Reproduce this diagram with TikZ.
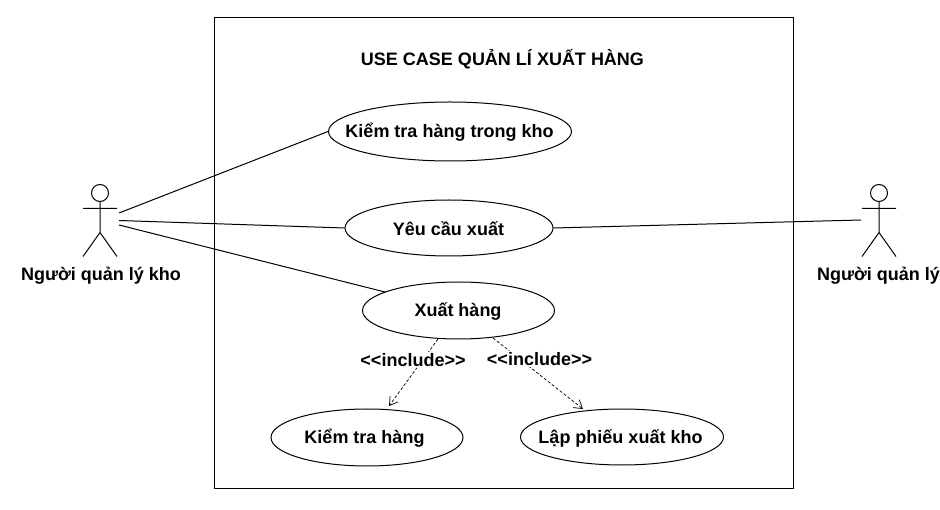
\documentclass[tikz,border=0pt]{standalone}
\usepackage{fontspec}
\setmainfont{Liberation Sans}
\usetikzlibrary{shapes.geometric,arrows.meta}
\begin{document}
\begin{tikzpicture}[x=1pt,y=-1pt,
  uc/.style={draw,ellipse,line width=1pt,inner sep=0pt,fill=white},
  lab/.style={font=\bfseries\fontsize{18}{20}\selectfont,inner sep=0pt},
  con/.style={line width=1pt},
  dep/.style={line width=0.7pt,dash pattern=on 3pt off 2pt,-{Straight Barb[length=8pt,width=10pt]}}]
\useasboundingbox (0,0) rectangle (940,510);
\node[draw,line width=1pt,minimum width=579pt,minimum height=470.5pt,inner sep=0pt,anchor=north west] (sys) at (214,17.5) {};
\node[lab] (title) at (502.5,59.5) {USE CASE QUẢN LÍ XUẤT HÀNG};
\node[uc,minimum width=243pt,minimum height=59pt] (u1) at (450,131.5) {};
\node[lab] (t1) at (449.5,132.5) {Kiểm tra hàng trong kho};
\node[uc,minimum width=208pt,minimum height=56pt] (u2) at (449,228) {};
\node[lab] (t2) at (448.5,229) {Yêu cầu xuất};
\node[uc,minimum width=192pt,minimum height=57pt] (u3) at (458.5,310.5) {};
\node[lab] (t3) at (458,311.5) {Xuất hàng};
\node[uc,minimum width=192pt,minimum height=57pt] (u4) at (367,437.5) {};
\node[lab] (t4) at (364.5,438.5) {Kiểm tra hàng};
\node[uc,minimum width=203pt,minimum height=56pt] (u5) at (622,437) {};
\node[lab] (t5) at (620.5,438.5) {Lập phiếu xuất kho};
% left actor
\draw[con] (100,193) circle (8.5);
\draw[con] (100,201.5) -- (100,232.5) (83,208.5) -- (117,208.5) (100,232.5) -- (83,256.5) (100,232.5) -- (117,256.5);
\node[lab] (nL) at (101,276) {Người quản lý kho};
% right actor
\coordinate (aR) at (861,220);
\draw[con] (879,193) circle (8.5);
\draw[con] (879,201.5) -- (879,232.5) (862,208.5) -- (896,208.5) (879,232.5) -- (862,256.5) (879,232.5) -- (896,256.5);
\node[lab] (nR) at (878.5,276) {Người quản lý};
\coordinate (a1) at (119,213);
\coordinate (a2) at (119,220.5);
\coordinate (a3) at (119,225);
\coordinate (c3) at (385,292);
\coordinate (d1s) at (438,339);
\coordinate (d1e) at (389,406);
\coordinate (d2s) at (493,338);
\coordinate (d2e) at (583,409);
\draw[con] (a1) -- (u1.west);
\draw[con] (a2) -- (u2.west);
\draw[con] (a3) -- (c3);
\draw[con] (u2.east) -- (aR);
\draw[dep] (d1s) -- (d1e);
\draw[dep] (d2s) -- (d2e);
\node[lab,fill=white,inner sep=1pt] (i1) at (413,360) {<{}<include>{}>};
\node[lab,fill=white,inner sep=1pt] (i2) at (539.5,359) {<{}<include>{}>};
\end{tikzpicture}
\end{document}
